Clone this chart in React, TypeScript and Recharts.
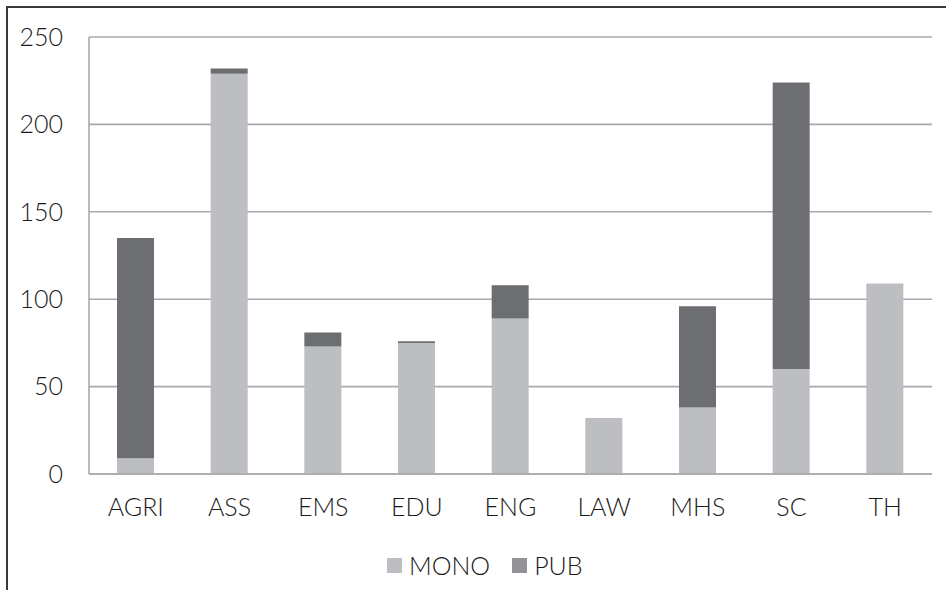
import * as React from 'react';
import { Bar, BarChart, CartesianGrid, XAxis, YAxis } from 'recharts';

const categories = ['AGRI', 'ASS', 'EMS', 'EDU', 'ENG', 'LAW', 'MHS', 'SC', 'TH'];
const monoValues = [9, 229, 73, 75, 89, 32, 38, 60, 109];
const pubValues = [126, 3, 8, 1, 19, 0, 58, 164, 0];
const yTicks = [0, 50, 100, 150, 200, 250];

const MONO_COLOR = '#bdbec1';
const PUB_COLOR = '#6d6e71';
const GRID_COLOR = '#a7a9ac';
const FONT = 'Lato, "Open Sans", sans-serif';

export default function App() {
  const data = React.useMemo(
    () => categories.map((name, i) => ({ name, MONO: monoValues[i], PUB: pubValues[i] })),
    []
  );

  const tickStyle = { fill: '#1a1a1a', fontSize: 25, fontFamily: FONT, fontWeight: 300 };

  return (
    <div style={{ position: 'fixed', left: 0, top: 0, width: 946, height: 590, overflow: 'hidden', background: '#fff' }}>
      {/* outer frame, cut off at right and bottom like the source */}
      <div
        style={{
          position: 'absolute',
          left: 6,
          top: 6,
          width: 1000,
          height: 700,
          borderLeft: '2px solid #3a3a3a',
          borderTop: '2px solid #3a3a3a',
        }}
      />
      <div style={{ position: 'absolute', left: 0, top: 0 }}>
        <BarChart
          width={946}
          height={590}
          data={data}
          margin={{ top: 37, right: 14, left: 0, bottom: 66 }}
          barSize={37}
        >
          <CartesianGrid vertical={false} stroke={GRID_COLOR} strokeWidth={1.6} />
          <XAxis
            dataKey="name"
            axisLine={{ stroke: GRID_COLOR, strokeWidth: 1.6 }}
            tickLine={false}
            tick={tickStyle}
            tickMargin={18}
            height={50}
            interval={0}
          />
          <YAxis
            domain={[0, 250]}
            ticks={yTicks}
            axisLine={{ stroke: GRID_COLOR, strokeWidth: 1.6 }}
            tickLine={false}
            tick={tickStyle}
            tickMargin={20}
            width={89}
          />
          <Bar dataKey="MONO" stackId="a" fill={MONO_COLOR} isAnimationActive={false} />
          <Bar dataKey="PUB" stackId="a" fill={PUB_COLOR} isAnimationActive={false} />
        </BarChart>
      </div>
      <div
        style={{
          position: 'absolute',
          top: 550,
          left: 387,
          display: 'flex',
          alignItems: 'center',
          fontFamily: FONT,
          fontSize: 25,
          fontWeight: 300,
          color: '#1a1a1a',
        }}
      >
        <span style={{ width: 15, height: 15, background: MONO_COLOR, display: 'inline-block', marginRight: 7 }} />
        <span style={{ marginRight: 22 }}>MONO</span>
        <span style={{ width: 15, height: 15, background: '#929396', display: 'inline-block', marginRight: 7 }} />
        <span>PUB</span>
      </div>
    </div>
  );
}
